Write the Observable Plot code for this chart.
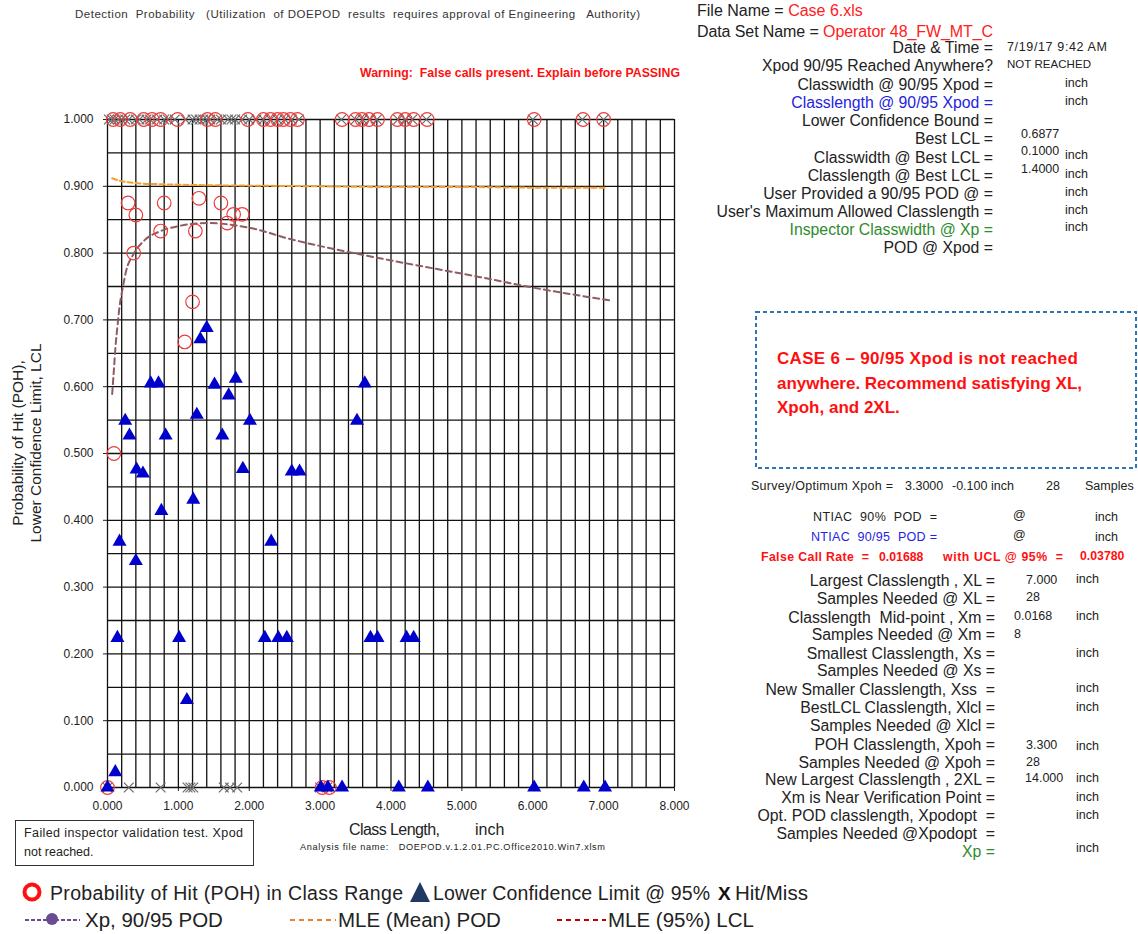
<!DOCTYPE html>
<html><head><meta charset="utf-8">
<script src="https://cdn.jsdelivr.net/npm/d3@7"></script>
<script src="https://cdn.jsdelivr.net/npm/@observablehq/plot@0.6"></script>
<style>
body{margin:0;background:#fff;}
#root{position:relative;width:1138px;height:934px;overflow:hidden;background:#fff;}
#root svg{position:absolute;left:0;top:0;}
</style></head><body><div id="root"></div>
<script>
// ---------- data ----------
const xTicks = [0,1,2,3,4,5,6,7,8];
const yTicks = [0,0.1,0.2,0.3,0.4,0.5,0.6,0.7,0.8,0.9,1.0];
// POH circles
const pohX = [0.08,0.18,0.32,0.51,0.63,0.75,0.99,1.41,1.52,1.98,2.2,2.3,2.4,2.48,2.58,2.68,3.31,3.50,3.59,3.69,3.81,4.09,4.20,4.32,4.51,6.02,6.71,7.00,
              0.09,0.29,0.37,0.40,0.75,0.80,1.09,1.20,1.24,1.29,1.60,1.69,1.78,1.90,
              0.0,3.03,3.13];
const pohY = [1,1,1,1,1,1,1,1,1,1,1,1,1,1,1,1,1,1,1,1,1,1,1,1,1,1,1,1,
              0.500,0.875,0.800,0.857,0.833,0.875,0.667,0.727,0.833,0.882,0.875,0.845,0.858,0.858,
              0,0,0];
// LCL triangles
const lclX = [0.17,0.25,0.31,0.41,0.50,0.61,0.72,0.76,0.82,1.21,1.26,1.40,1.31,1.51,1.62,1.71,1.81,1.91,2.01,2.31,2.60,2.71,3.52,3.63,
              0.40,0.14,1.01,1.12,0.11,0.0,2.22,2.41,2.53,3.01,3.11,3.31,3.71,3.81,4.22,4.32,4.11,4.52,6.02,6.72,7.02];
const lclY = [0.368,0.549,0.527,0.476,0.470,0.605,0.605,0.414,0.527,0.431,0.558,0.688,0.671,0.603,0.527,0.587,0.612,0.477,0.549,0.368,0.473,0.473,0.549,0.605,
              0.339,0.224,0.224,0.131,0.023,0,0.224,0.224,0.224,0,0,0,0.224,0.224,0.224,0.224,0,0,0,0,0];
// Hit / Miss
const hitX = [0.02,0.06,0.10,0.15,0.20,0.25,0.30,0.40,0.45,0.55,0.60,0.70,0.80,0.85,0.95,1.10,1.20,1.25,1.30,1.35,1.40,1.45,1.55,1.60,1.70,1.75,1.80,1.90,2.00,2.10,2.20,2.30,2.40,2.50,2.60,2.70,3.30,3.50,3.60,3.70,3.80,4.10,4.20,4.30,4.50,6.00,6.70,7.00];
const missX = [0.0,0.30,0.75,1.13,1.17,1.21,1.64,1.73,1.83,3.00,3.10];
// MLE (mean) POD curve
const meanX = [0.066,0.15,0.3,0.5,0.8,1.2,2,3,4,5,6,7.05];
const meanY = [0.912,0.909,0.906,0.904,0.903,0.902,0.901,0.900,0.899,0.899,0.898,0.898];
// MLE (95%) LCL curve
const lcX = [0.066,0.09,0.113,0.14,0.17,0.21,0.26,0.37,0.52,0.75,1.03,1.4,2.0,2.58,3.29,4.0,5.26,5.97,7.1];
const lcY = [0.589,0.625,0.660,0.690,0.720,0.745,0.772,0.799,0.819,0.833,0.841,0.845,0.838,0.821,0.804,0.789,0.764,0.749,0.729];

const xGrid = d3.range(0, 8.0001, 0.2);
const yGrid = d3.range(0, 1.0001, 0.05);

const circles = pohX.map((x,i)=>({x, y:pohY[i]}));
const tris = lclX.map((x,i)=>({x, y:lclY[i]}));
const hm = hitX.map(x=>({x,y:1})).concat(missX.map(x=>({x,y:0})));
const mean = meanX.map((x,i)=>({x,y:meanY[i]}));
const lcl = lcX.map((x,i)=>({x,y:lcY[i]}));

const root = document.getElementById("root");
const F = '"Liberation Sans", Arial, sans-serif';

const chart = Plot.plot({
  width: 700, height: 820,
  marginLeft: 107, marginRight: 26, marginTop: 119, marginBottom: 33,
  x: {domain:[0,8], ticks: xTicks, tickFormat: d3.format(".3f"), label: null, tickSize: 4, tickPadding: 10},
  y: {domain:[0,1], ticks: yTicks, tickFormat: d3.format(".3f"), label: null, tickSize: 4, tickPadding: 10},
  style: {fontFamily: F, fontSize: "12px", color: "#222", background: "transparent", overflow: "visible"},
  marks: [
    Plot.ruleX(xGrid, {stroke:"#111", strokeWidth:1.3}),
    Plot.ruleY(yGrid, {stroke:"#111", strokeWidth:1.3}),
    Plot.line(mean, {x:"x", y:"y", stroke:"#F4A030", strokeWidth:2, strokeDasharray:"5,3", curve:"monotone-x"}),
    Plot.line(lcl, {x:"x", y:"y", stroke:"#8E5C62", strokeWidth:2, strokeDasharray:"6,4", curve:"monotone-x"}),
    Plot.dot(hm, {x:"x", y:"y", symbol:"times", r:4.5, stroke:"#6b6b6b", strokeWidth:1.2}),
    Plot.dot(circles, {x:"x", y:"y", r:6.8, stroke:"#EE3B3B", strokeWidth:1.2, fill:"none"}),
    Plot.dot(tris, {x:"x", y:"y", symbol:"triangle", r:5.2, fill:"#0000CC", stroke:"none"})
  ]
});
root.appendChild(chart);

// ---------- overlay text ----------
const svg = d3.select(root).append("svg").attr("width",1138).attr("height",934)
  .style("font-family", F).style("pointer-events","none");

function T(s, x, y, o={}) {
  const size = o.size || 14;
  const t = svg.append("text").attr("x", x).attr("y", y + size*0.35)
    .attr("font-size", size).attr("fill", o.color || "#222")
    .attr("text-anchor", o.anchor || "start")
    .attr("font-weight", o.weight || "normal")
    .style("white-space","pre").attr("xml:space","preserve");
  if (o.w) t.attr("textLength", o.w).attr("lengthAdjust", "spacing");
  if (Array.isArray(s)) s.forEach(([str,c])=>t.append("tspan").attr("fill",c).text(str));
  else t.text(s);
  return t;
}

// title and warning
T("Detection  Probability   (Utilization  of DOEPOD  results  requires approval of Engineering   Authority)", 75, 14, {size:11.5, color:"#333", w:565});
T("Warning:  False calls present. Explain before PASSING", 360, 73, {size:12.3, color:"#FF1010", weight:"bold", w:320});

// y axis title
svg.append("text").attr("transform","translate(23,443) rotate(-90)").attr("text-anchor","middle")
  .attr("font-size",15.5).attr("fill","#222").text("Probability of Hit (POH),");
svg.append("text").attr("transform","translate(41,443) rotate(-90)").attr("text-anchor","middle")
  .attr("font-size",15.5).attr("fill","#222").text("Lower Confidence Limit, LCL");

// x axis title
T("Class Length,", 349, 829, {size:16, w:91});
T("inch", 475, 829, {size:16});
T("Analysis file name:   DOEPOD.v.1.2.01.PC.Office2010.Win7.xlsm", 300, 847, {size:9.2, w:305});

// failed box
svg.append("rect").attr("x",15.5).attr("y",820.5).attr("width",238).attr("height",45).attr("fill","none").attr("stroke","#333").attr("stroke-width",1);
T("Failed inspector validation test. Xpod", 24, 833, {size:12.5, w:219});
T("not reached.", 24, 852, {size:12.5});

// top right panel
T([["File Name = ","#222"],["Case 6.xls","#FF2020"]], 697, 10, {size:16});
T([["Data Set Name = ","#222"],["Operator 48_FW_MT_C","#FF2020"]], 697, 31, {size:16, w:296});
const topLabels = ["Date & Time =","Xpod 90/95 Reached Anywhere?","Classwidth @ 90/95 Xpod =","Classlength @ 90/95 Xpod =","Lower Confidence Bound =","Best LCL =","Classwidth @ Best LCL =","Classlength @ Best LCL =","User Provided a 90/95 POD @ =","User's Maximum Allowed Classlength =","Inspector Classwidth @ Xp =","POD @ Xpod ="];
const topColors = {3:"#2424E0", 10:"#2E8B2E"};
const topYs = [47,65,84,102,120,138,157,175,193,211,229,247];
topLabels.forEach((s,i)=>T(s, 993, topYs[i], {size:15.8, anchor:"end", color: topColors[i] || "#222"}));
T("7/19/17 9:42 AM", 1007, 47, {size:12.5, w:100});
T("NOT REACHED", 1007, 64, {size:11.5, w:84});
[[83],[101],[155],[174],[192],[210],[227]].forEach(([y])=>T("inch", 1065, y, {size:12.5}));
T("0.6877", 1021, 134, {size:12.5});
T("0.1000", 1021, 151, {size:12.5});
T("1.4000", 1021, 169, {size:12.5});

// dashed box
svg.append("rect").attr("x",756).attr("y",312).attr("width",380).attr("height",156).attr("fill","none")
  .attr("stroke","#2E75B6").attr("stroke-width",2).attr("stroke-dasharray","4,3");
T("CASE 6 – 90/95 Xpod is not reached", 777, 358, {size:17, weight:"bold", color:"#FF1010", w:301});
T("anywhere. Recommend satisfying XL,", 777, 383, {size:17, weight:"bold", color:"#FF1010", w:305});
T("Xpoh, and 2XL.", 777, 407, {size:17, weight:"bold", color:"#FF1010"});

// survey / NTIAC / false call
T("Survey/Optimum Xpoh =", 751, 486, {size:12.5, w:142});
T("3.3000", 905, 486, {size:12.5});
T("-0.100 inch", 952, 486, {size:12.5});
T("28", 1046, 486, {size:12.5});
T("Samples", 1085, 486, {size:12.5});
T("NTIAC  90%  POD  =", 813, 517, {size:12.5, w:124});
T("@", 1013, 515, {size:12.5});
T("inch", 1095, 517, {size:12.5});
T("NTIAC  90/95  POD =", 811, 537, {size:12.5, color:"#2424E0", w:126});
T("@", 1013, 535, {size:12.5});
T("inch", 1095, 537, {size:12.5});
T("False Call Rate  =", 761, 557, {size:12.3, weight:"bold", color:"#FF1010", w:108});
T("0.01688", 879, 557, {size:12.3, weight:"bold", color:"#FF1010"});
T("with UCL @ 95%  =", 943, 557, {size:12.3, weight:"bold", color:"#FF1010", w:120});
T("0.03780", 1080, 556, {size:12.3, weight:"bold", color:"#FF1010"});

// bottom right panel
const botLabels = ["Largest Classlength , XL =","Samples Needed @ XL =","Classlength  Mid-point , Xm =","Samples Needed @ Xm =","Smallest Classlength, Xs =","Samples Needed @ Xs =","New Smaller Classlength, Xss  =","BestLCL Classlength, Xlcl =","Samples Needed @ Xlcl =","POH Classlength, Xpoh =","Samples Needed @ Xpoh =","New Largest Classlength , 2XL =","Xm is Near Verification Point =","Opt. POD classlength, Xpodopt  =","Samples Needed @Xpodopt  =","Xp ="];
const botYs = [580,598,617,634,653,670,689,707,725,744,762,779,797,815,833,851];
botLabels.forEach((s,i)=>T(s, 995, botYs[i], {size:15.8, anchor:"end", color: i===15 ? "#2E8B2E" : "#222"}));
T("7.000", 1026, 580, {size:12.5});
T("28", 1026, 597, {size:12.5});
T("0.0168", 1014, 616, {size:12.5});
T("8", 1014, 634, {size:12.5});
T("3.300", 1026, 745, {size:12.5});
T("28", 1026, 762, {size:12.5});
T("14.000", 1025, 778, {size:12.5});
[579,616,653,688,707,746,778,797,815,848].forEach(y=>T("inch", 1076, y, {size:12.5}));

// legend
svg.append("circle").attr("cx",32).attr("cy",892).attr("r",7.5).attr("fill","none").attr("stroke","#FF1010").attr("stroke-width",4);
T("Probability of Hit (POH) in Class Range", 50, 893, {size:19.5, w:353});
svg.append("path").attr("d","M420,882 L430,902 L410,902 Z").attr("fill","#1F3864");
T("Lower Confidence Limit @ 95%", 433, 893, {size:19.5, w:277});
T("X", 718, 893, {size:19, weight:"bold", color:"#111"});
T("Hit/Miss", 735, 893, {size:20.5});
svg.append("line").attr("x1",25).attr("x2",80).attr("y1",920).attr("y2",920).attr("stroke","#6A4C93").attr("stroke-width",2).attr("stroke-dasharray","4,2");
svg.append("circle").attr("cx",52).attr("cy",919).attr("r",6).attr("fill","#6A4C93");
T("Xp, 90/95 POD", 85, 920, {size:20.5});
svg.append("line").attr("x1",290).attr("x2",336).attr("y1",920).attr("y2",920).attr("stroke","#ED7D31").attr("stroke-width",2).attr("stroke-dasharray","5,4");
T("MLE (Mean) POD", 338, 920, {size:20.5});
svg.append("line").attr("x1",557).attr("x2",606).attr("y1",920).attr("y2",920).attr("stroke","#C00000").attr("stroke-width",2).attr("stroke-dasharray","5,4");
T("MLE (95%) LCL", 608, 920, {size:20.5});
</script>
</body></html>
